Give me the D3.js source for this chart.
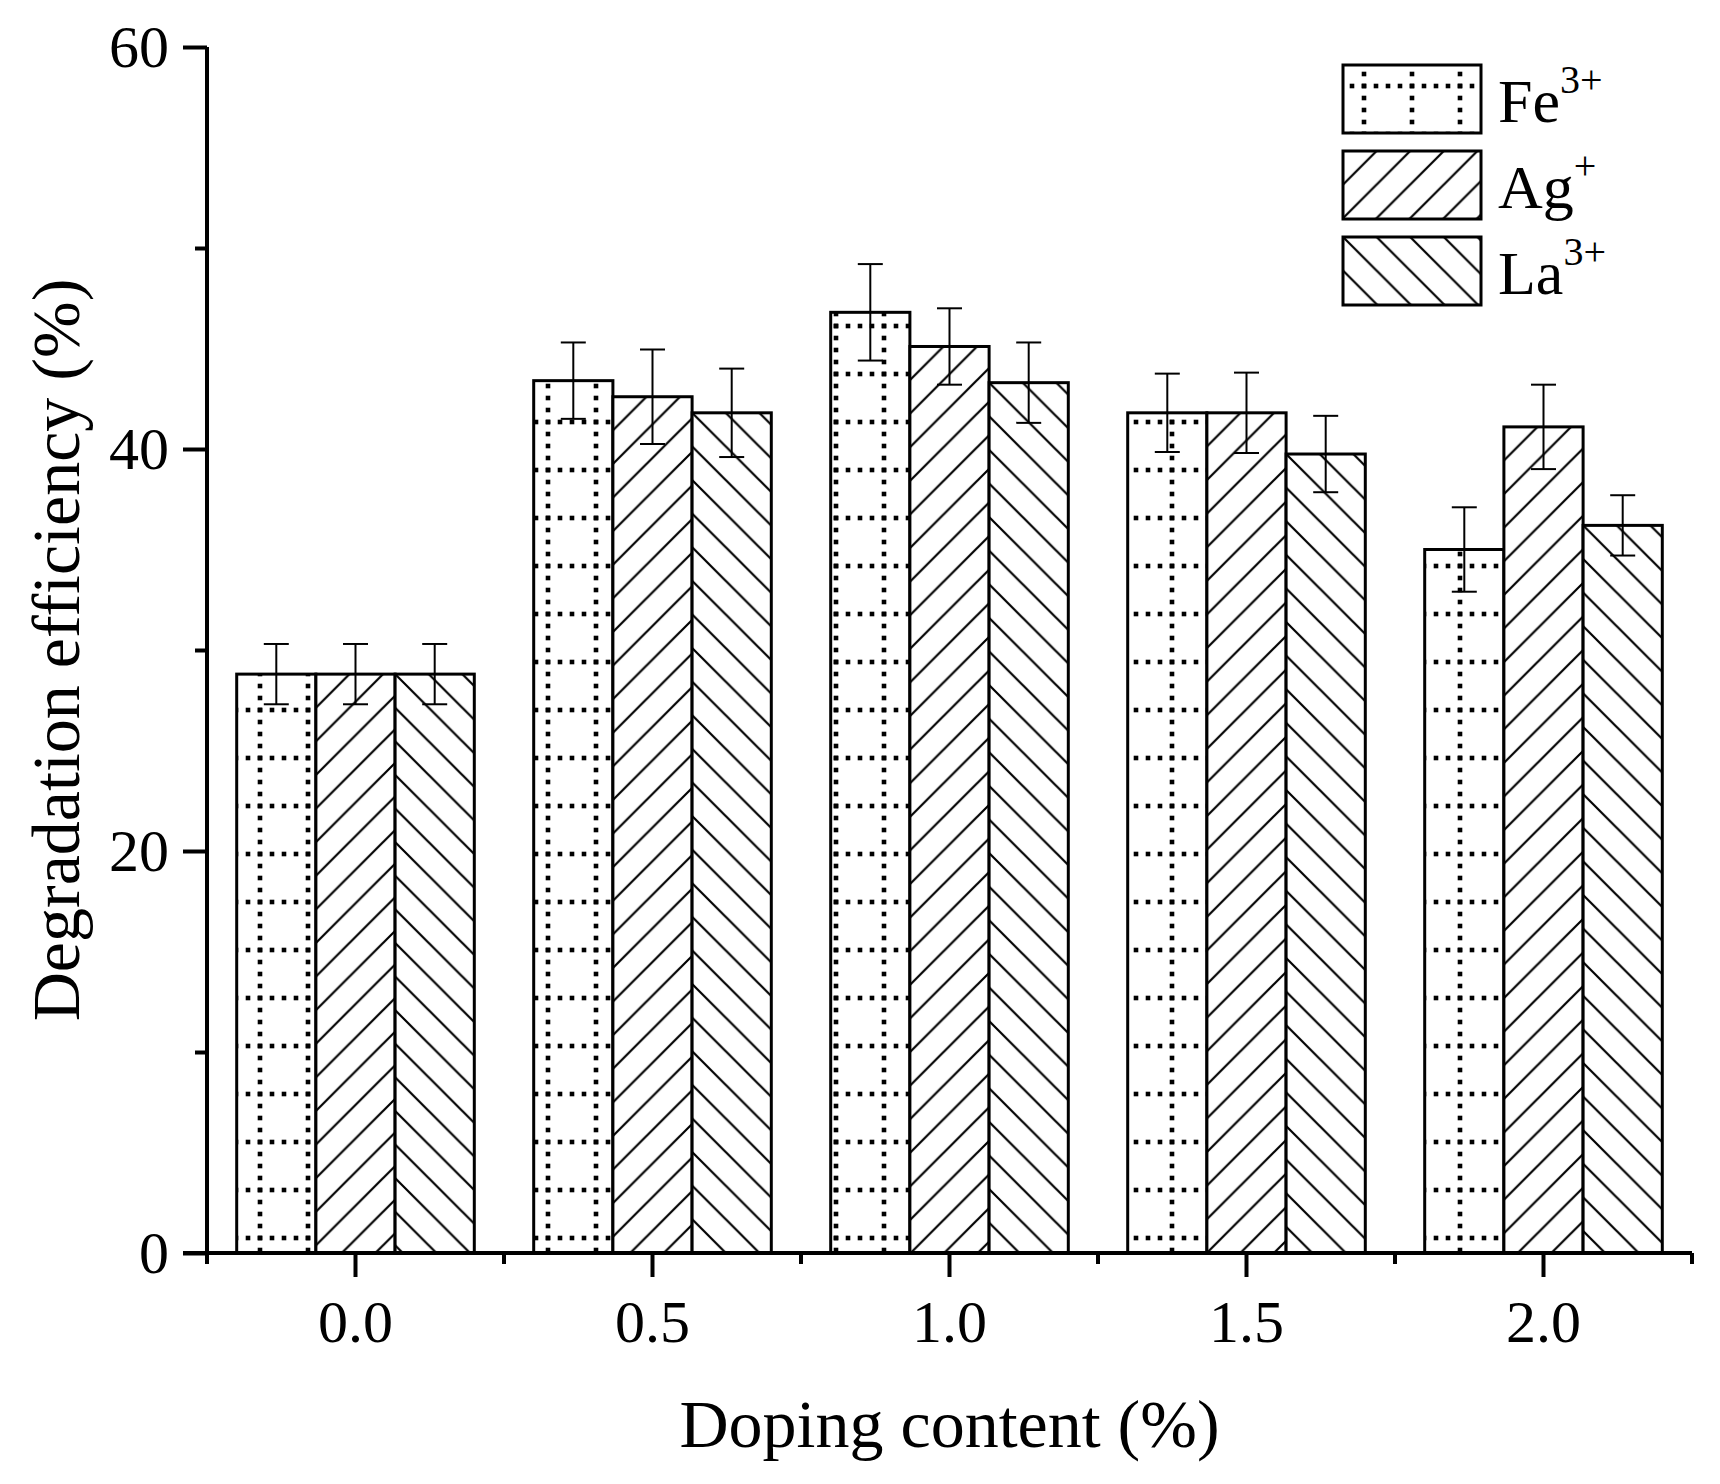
<!DOCTYPE html>
<html>
<head>
<meta charset="utf-8">
<script src="https://cdn.jsdelivr.net/npm/d3@7"></script>
<style>
  html, body { margin: 0; padding: 0; background: #fff; }
  svg { display: block; }
  text { font-family: "Liberation Serif", "Times New Roman", serif; fill: #000; }
</style>
</head>
<body>
<svg id="chart" width="1720" height="1484"></svg>
<script>
// ---- data ----
const categories = ["0.0", "0.5", "1.0", "1.5", "2.0"];
const seriesNames = ["Fe", "Ag", "La"];
const seriesSup = ["3+", "+", "3+"];
const feValues = [28.8, 43.4, 46.8, 41.8, 35.0];
const agValues = [28.8, 42.6, 45.1, 41.8, 41.1];
const laValues = [28.8, 41.8, 43.3, 39.75, 36.2];
const feErrors = [1.5, 1.9, 2.4, 1.95, 2.1];
const agErrors = [1.5, 2.35, 1.9, 2.0, 2.1];
const laErrors = [1.5, 2.2, 2.0, 1.9, 1.5];
const yTicks = [0, 20, 40, 60];
const yMinorTicks = [10, 30, 50];

const values = [feValues, agValues, laValues];
const errors = [feErrors, agErrors, laErrors];

// ---- layout ----
const svg = d3.select("#chart");
const pLeft = 207, pRight = 1692, pTop = 47, pBottom = 1253;

const x = d3.scaleBand().domain(categories).range([pLeft, pRight]).paddingInner(0).paddingOuter(0);
const xSub = d3.scaleBand().domain(seriesNames).range([0, x.bandwidth() * 0.8]);
const y = d3.scaleLinear().domain([0, 60]).range([pBottom, pTop]);

const defs = svg.append("defs");
const P = 33.6;
const DOT = 4.6;

// Fe: dotted grid (global phase)
const fePat = defs.append("pattern").attr("id", "pat-fe")
  .attr("patternUnits", "userSpaceOnUse")
  .attr("x", 14).attr("y", 32).attr("width", 48).attr("height", 48);
fePat.append("rect").attr("width", 48).attr("height", 48).attr("fill", "#fff");
[6, 18, 30, 42].forEach(v => {
  fePat.append("rect").attr("x", 6 - DOT / 2).attr("y", v - DOT / 2).attr("width", DOT).attr("height", DOT).attr("fill", "#000");
  fePat.append("rect").attr("x", v - DOT / 2).attr("y", 6 - DOT / 2).attr("width", DOT).attr("height", DOT).attr("fill", "#000");
});

function hatchPattern(id, px, py, dir) {
  const p = defs.append("pattern").attr("id", id)
    .attr("patternUnits", "userSpaceOnUse")
    .attr("x", px).attr("y", py).attr("width", P).attr("height", P);
  p.append("rect").attr("width", P).attr("height", P).attr("fill", "#fff");
  const d = dir === "/" ?
    `M${-P/4},${P/4}L${P/4},${-P/4}M0,${P}L${P},0M${P*3/4},${P*5/4}L${P*5/4},${P*3/4}` :
    `M${-P/4},${P*3/4}L${P/4},${P*5/4}M0,0L${P},${P}M${P*3/4},${-P/4}L${P*5/4},${P/4}`;
  p.append("path").attr("d", d).attr("stroke", "#000").attr("stroke-width", 2.2).attr("fill", "none");
  return "url(#" + id + ")";
}

// ---- bars ----
const barG = svg.append("g");
const bars = [];
categories.forEach((c, i) => {
  const g0 = x(c) + x.bandwidth() * 0.1;
  seriesNames.forEach((s, k) => {
    bars.push({ c, i, s, k, v: values[k][i], e: errors[k][i],
      x0: g0 + xSub(s), w: xSub.bandwidth() });
  });
});

bars.forEach((b, n) => {
  const yTop = y(b.v);
  let fill;
  if (b.k === 0) fill = "url(#pat-fe)";
  else fill = hatchPattern("pat-" + n, b.x0, yTop, b.k === 1 ? "/" : "\\");
  barG.append("rect")
    .attr("x", b.x0).attr("y", yTop)
    .attr("width", b.w).attr("height", y(0) - yTop)
    .attr("fill", fill).attr("stroke", "#000").attr("stroke-width", 3);
});

// ---- error bars ----
const errG = svg.append("g").attr("stroke", "#000").attr("stroke-width", 2).attr("fill", "none");
bars.forEach(b => {
  const cx = b.x0 + b.w / 2;
  const y1 = y(b.v + b.e), y2 = y(b.v - b.e);
  errG.append("line").attr("x1", cx).attr("x2", cx).attr("y1", y1).attr("y2", y2);
  errG.append("line").attr("x1", cx - 12.5).attr("x2", cx + 12.5).attr("y1", y1).attr("y2", y1);
  errG.append("line").attr("x1", cx - 12.5).attr("x2", cx + 12.5).attr("y1", y2).attr("y2", y2);
});

// ---- axes ----
const yAxis = svg.append("g").attr("transform", `translate(${pLeft},0)`)
  .call(d3.axisLeft(y).tickValues(yTicks).tickSize(24).tickPadding(14).tickFormat(d3.format("d")));
yAxis.select(".domain").attr("stroke-width", 4).attr("d", `M0,${pTop}V${pBottom}`);
yAxis.selectAll(".tick line").attr("stroke-width", 4);
yAxis.selectAll(".tick text").attr("font-size", 60).attr("font-family", "Liberation Serif, serif").attr("dy", "0.32em");
svg.append("g").attr("transform", `translate(${pLeft},0)`)
  .call(d3.axisLeft(y).tickValues(yMinorTicks).tickSize(12).tickFormat(""))
  .call(g => g.select(".domain").remove())
  .selectAll(".tick line").attr("stroke-width", 4);

const xAxis = svg.append("g").attr("transform", `translate(0,${pBottom})`)
  .call(d3.axisBottom(x).tickSize(24).tickPadding(22));
xAxis.select(".domain").attr("stroke-width", 4).attr("d", `M${pLeft - 24},0H${pRight}`);
xAxis.selectAll(".tick line").attr("stroke-width", 4);
xAxis.selectAll(".tick text").attr("font-size", 60).attr("font-family", "Liberation Serif, serif").attr("dy", "0.72em");
const xMinor = d3.range(categories.length + 1).map(i => pLeft + i * x.step());
svg.append("g").selectAll("line").data(xMinor).join("line")
  .attr("x1", d => d).attr("x2", d => d).attr("y1", pBottom).attr("y2", pBottom + 11)
  .attr("stroke", "#000").attr("stroke-width", 4);

// ---- titles ----
svg.append("text").attr("x", (pLeft + pRight) / 2).attr("y", 1447)
  .attr("text-anchor", "middle").attr("font-size", 68).text("Doping content (%)");
svg.append("text").attr("transform", `translate(79,${(pTop + pBottom) / 2}) rotate(-90)`)
  .attr("text-anchor", "middle").attr("font-size", 68).text("Degradation efficiency (%)");

// ---- legend ----
const legY = [65, 151, 237];
const legG = svg.append("g");
seriesNames.forEach((s, k) => {
  const bx = 1343, by = legY[k], bw = 138, bh = 68;
  let fill = k === 0 ? "url(#pat-fe)" : hatchPattern("leg-" + k, bx, by, k === 1 ? "/" : "\\");
  legG.append("rect").attr("x", bx).attr("y", by).attr("width", bw).attr("height", bh)
    .attr("fill", fill).attr("stroke", "#000").attr("stroke-width", 3);
  const t = legG.append("text").attr("x", 1498).attr("y", by + 57).attr("font-size", 62);
  t.append("tspan").text(s);
  t.append("tspan").attr("dy", -29).attr("font-size", 40).text(seriesSup[k]);
});
</script>
</body>
</html>
